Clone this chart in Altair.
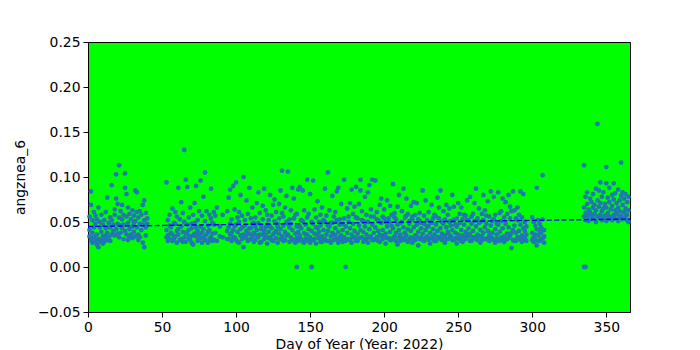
import altair as alt
import pandas as pd

# ---- data ----
jan_days = list(range(1, 41))
jan_vals = [
    [0.056, 0.034, 0.041], [0.084, 0.069, 0.030], [0.052, 0.038, 0.027], [0.061, 0.044, 0.033],
    [0.048, 0.029, 0.057], [0.036, 0.053, 0.025], [0.066, 0.031, 0.022], [0.044, 0.028, 0.050],
    [0.039, 0.058, 0.030], [0.034, 0.026, 0.047], [0.052, 0.031, 0.028], [0.043, 0.035, 0.061],
    [0.077, 0.038, 0.030], [0.049, 0.033], [0.055, 0.029, 0.044], [0.091, 0.036, 0.052],
    [0.047, 0.040], [0.064, 0.035, 0.058], [0.103, 0.076, 0.042], [0.070, 0.048, 0.037],
    [0.113, 0.055, 0.033], [0.062, 0.046, 0.038], [0.069, 0.043, 0.053], [0.058, 0.031, 0.047],
    [0.104, 0.088, 0.040], [0.081, 0.056, 0.036], [0.066, 0.049, 0.030], [0.059, 0.042, 0.033],
    [0.053, 0.036], [0.063, 0.045, 0.032], [0.057, 0.039, 0.049], [0.085, 0.051, 0.034],
    [0.083, 0.061, 0.044], [0.055, 0.036, 0.030], [0.048, 0.062, 0.033], [0.058, 0.041],
    [0.069, 0.047, 0.027], [0.074, 0.052, 0.022], [0.060, 0.044, 0.035], [0.054, 0.048],
]

mid_days = (list(range(53, 88)) + [89, 91] + list(range(94, 297)) + list(range(300, 309)))
mid_vals = [
    # 53-87
    [0.094, 0.041, 0.033], [0.052, 0.035, 0.029], [0.058, 0.046, 0.031], [0.044, 0.038],
    [0.065, 0.036, 0.029], [0.049, 0.031], [0.061, 0.034, 0.048], [0.056, 0.027, 0.040],
    [0.088, 0.042, 0.036], [0.053, 0.030], [0.072, 0.031, 0.045], [0.060, 0.039, 0.028],
    [0.130, 0.050, 0.033], [0.097, 0.038, 0.028], [0.089, 0.047, 0.037], [0.055, 0.041, 0.032],
    [0.066, 0.034, 0.030], [0.048, 0.043, 0.027], [0.058, 0.035, 0.025], [0.071, 0.049, 0.037],
    [0.090, 0.044, 0.034], [0.052, 0.040, 0.029], [0.062, 0.036, 0.031], [0.096, 0.045, 0.032],
    [0.057, 0.038, 0.027], [0.078, 0.042, 0.033], [0.105, 0.051, 0.030], [0.062, 0.036],
    [0.046, 0.039, 0.027], [0.058, 0.041, 0.031], [0.087, 0.054, 0.033], [0.049, 0.037, 0.029],
    [0.061, 0.030, 0.047], [0.057, 0.038], [0.066, 0.029],
    # 89, 91
    [0.045, 0.034], [0.058, 0.033],
    # 94-296
    [0.062, 0.040, 0.031], [0.077, 0.031, 0.044], [0.086, 0.048, 0.036], [0.053, 0.029, 0.038], [0.090, 0.041, 0.033],
    [0.064, 0.033, 0.045], [0.094, 0.047, 0.030], [0.055, 0.039, 0.028], [0.061, 0.050, 0.027], [0.080, 0.035, 0.042],
    [0.057, 0.044, 0.031], [0.100, 0.036, 0.022], [0.052, 0.046, 0.034], [0.074, 0.040, 0.032], [0.059, 0.029, 0.037],
    [0.088, 0.043, 0.037], [0.054, 0.031, 0.043], [0.066, 0.034, 0.048], [0.049, 0.038, 0.028], [0.055, 0.030, 0.045],
    [0.071, 0.041, 0.035], [0.083, 0.049, 0.033], [0.060, 0.036, 0.027], [0.046, 0.042, 0.028], [0.068, 0.053, 0.036],
    [0.087, 0.040, 0.031], [0.063, 0.035, 0.044], [0.058, 0.047, 0.026], [0.052, 0.039, 0.032], [0.080, 0.045, 0.033],
    [0.057, 0.043, 0.030], [0.069, 0.036, 0.029], [0.075, 0.051, 0.038], [0.061, 0.040, 0.032], [0.048, 0.045, 0.027],
    [0.070, 0.037, 0.054], [0.085, 0.042, 0.031], [0.107, 0.060, 0.034], [0.056, 0.046, 0.029], [0.066, 0.039, 0.030],
    [0.079, 0.050, 0.035], [0.106, 0.048, 0.036], [0.053, 0.044, 0.028], [0.063, 0.033, 0.048], [0.088, 0.041, 0.030],
    [0.076, 0.054, 0.030], [0.058, 0.037, 0.027], [0.000, 0.059, 0.045, 0.032], [0.086, 0.039, 0.029], [0.089, 0.045, 0.035],
    [0.052, 0.043, 0.031], [0.085, 0.051, 0.028], [0.063, 0.038, 0.027], [0.047, 0.036, 0.031], [0.097, 0.055, 0.036],
    [0.059, 0.042, 0.029], [0.081, 0.033, 0.027], [0.000, 0.050, 0.040], [0.096, 0.048, 0.030], [0.064, 0.037, 0.031],
    [0.055, 0.044, 0.026], [0.073, 0.043, 0.035], [0.050, 0.039, 0.032], [0.058, 0.046, 0.028], [0.066, 0.034, 0.028],
    [0.052, 0.041, 0.030], [0.087, 0.050, 0.031], [0.057, 0.036, 0.029], [0.105, 0.046, 0.040], [0.063, 0.045, 0.029],
    [0.049, 0.034, 0.027], [0.079, 0.049, 0.038], [0.056, 0.030, 0.036], [0.061, 0.043, 0.035], [0.084, 0.052, 0.031],
    [0.088, 0.039, 0.027], [0.053, 0.047, 0.033], [0.070, 0.035, 0.030], [0.048, 0.041, 0.028], [0.097, 0.054, 0.033],
    [0.000, 0.045, 0.029], [0.065, 0.038, 0.031], [0.056, 0.050, 0.031], [0.071, 0.043, 0.030], [0.086, 0.036, 0.027],
    [0.059, 0.048, 0.033], [0.067, 0.040, 0.033], [0.089, 0.055, 0.029], [0.054, 0.037, 0.029], [0.070, 0.046, 0.032],
    [0.097, 0.085, 0.041], [0.062, 0.033, 0.052], [0.051, 0.039, 0.028], [0.078, 0.045, 0.030], [0.058, 0.036, 0.031],
    [0.083, 0.050, 0.027], [0.091, 0.042, 0.033], [0.064, 0.056, 0.034], [0.097, 0.047, 0.030], [0.056, 0.038, 0.030],
    [0.096, 0.044, 0.031], [0.061, 0.053, 0.033], [0.052, 0.040, 0.029], [0.069, 0.036, 0.028], [0.076, 0.049, 0.034],
    [0.056, 0.041, 0.031], [0.064, 0.054, 0.035], [0.050, 0.037, 0.026], [0.074, 0.045, 0.032], [0.054, 0.032, 0.050],
    [0.068, 0.039, 0.030], [0.058, 0.046, 0.030], [0.092, 0.043, 0.032], [0.060, 0.055, 0.034], [0.053, 0.038, 0.029],
    [0.067, 0.047, 0.025], [0.080, 0.041, 0.033], [0.049, 0.036, 0.029], [0.062, 0.050, 0.031], [0.087, 0.044, 0.032],
    [0.055, 0.038, 0.030], [0.076, 0.057, 0.035], [0.059, 0.042, 0.028], [0.051, 0.031, 0.048], [0.068, 0.040, 0.033],
    [0.056, 0.053, 0.027], [0.072, 0.044, 0.031], [0.058, 0.035, 0.030], [0.071, 0.047, 0.034], [0.053, 0.039, 0.024],
    [0.060, 0.051, 0.031], [0.049, 0.043, 0.033], [0.085, 0.037, 0.030], [0.057, 0.048, 0.029], [0.074, 0.041, 0.032],
    [0.052, 0.034, 0.045], [0.061, 0.045, 0.030], [0.050, 0.038, 0.026], [0.069, 0.049, 0.033], [0.054, 0.031, 0.042],
    [0.058, 0.036, 0.029], [0.056, 0.047, 0.029], [0.077, 0.040, 0.033], [0.066, 0.054, 0.033], [0.085, 0.043, 0.031],
    [0.050, 0.037, 0.030], [0.062, 0.048, 0.034], [0.053, 0.035, 0.027], [0.069, 0.044, 0.031], [0.058, 0.039, 0.031],
    [0.065, 0.050, 0.036], [0.051, 0.034, 0.046], [0.080, 0.041, 0.030], [0.067, 0.053, 0.030], [0.047, 0.038, 0.032],
    [0.054, 0.045, 0.026], [0.071, 0.036, 0.031], [0.059, 0.049, 0.032], [0.066, 0.041, 0.029], [0.053, 0.035, 0.028],
    [0.058, 0.047, 0.033], [0.057, 0.039, 0.031], [0.074, 0.052, 0.035], [0.052, 0.043, 0.034], [0.078, 0.037, 0.029],
    [0.056, 0.048, 0.029], [0.059, 0.040, 0.033], [0.071, 0.033, 0.051], [0.087, 0.045, 0.031], [0.054, 0.036, 0.030],
    [0.065, 0.049, 0.034], [0.050, 0.041, 0.027], [0.059, 0.034, 0.030], [0.080, 0.052, 0.038], [0.063, 0.044, 0.031],
    [0.057, 0.031, 0.048], [0.073, 0.040, 0.032], [0.056, 0.035, 0.029], [0.084, 0.046, 0.033], [0.051, 0.038, 0.032],
    [0.078, 0.053, 0.030], [0.058, 0.042, 0.027], [0.048, 0.036, 0.031], [0.083, 0.047, 0.030], [0.060, 0.039, 0.029],
    [0.062, 0.051, 0.033], [0.076, 0.043, 0.031], [0.055, 0.034, 0.028], [0.072, 0.048, 0.030], [0.059, 0.037, 0.031],
    [0.080, 0.044, 0.032], [0.067, 0.054, 0.035], [0.062, 0.038, 0.021], [0.084, 0.041, 0.030], [0.063, 0.046, 0.029],
    [0.054, 0.038, 0.029], [0.066, 0.052, 0.033], [0.058, 0.040, 0.033], [0.084, 0.047, 0.030], [0.055, 0.035, 0.028],
    [0.081, 0.043, 0.031], [0.050, 0.032, 0.040], [0.045, 0.029, 0.036],
    # 300-308
    [0.055, 0.038, 0.030], [0.050, 0.033, 0.028], [0.046, 0.030, 0.036], [0.088, 0.042, 0.024],
    [0.052, 0.035, 0.029], [0.048, 0.029, 0.040], [0.044, 0.038, 0.031], [0.102, 0.053, 0.032],
    [0.041, 0.027, 0.034],
]

dec_days = list(range(335, 366))
dec_vals = [
    [0.000, 0.113, 0.066, 0.056], [0.000, 0.078, 0.060, 0.052], [0.083, 0.070, 0.055],
    [0.064, 0.058, 0.051], [0.076, 0.061], [0.072, 0.057, 0.053], [0.081, 0.066, 0.054],
    [0.069, 0.059], [0.087, 0.063, 0.050], [0.159, 0.074, 0.056], [0.085, 0.067, 0.055],
    [0.094, 0.071, 0.058], [0.078, 0.062, 0.052], [0.083, 0.065, 0.054], [0.070, 0.057],
    [0.111, 0.093, 0.066, 0.051], [0.077, 0.060, 0.053], [0.088, 0.072, 0.056],
    [0.064, 0.055], [0.080, 0.068, 0.052], [0.093, 0.075, 0.058], [0.082, 0.063, 0.054],
    [0.071, 0.059], [0.086, 0.066, 0.051], [0.074, 0.062, 0.055], [0.116, 0.079, 0.057],
    [0.083, 0.069, 0.053], [0.076, 0.061], [0.081, 0.065, 0.056], [0.072, 0.058, 0.052],
    [0.078, 0.063, 0.050],
]

trend_days = [0, 366]
trend_vals = [0.0450, 0.0533]

# ---- build table ----
rows = []
for days, vals in ((jan_days, jan_vals), (mid_days, mid_vals), (dec_days, dec_vals)):
    for d, vs in zip(days, vals):
        for v in vs:
            rows.append({"day": d, "value": v})
df = pd.DataFrame(rows)
trend_df = pd.DataFrame({"day": trend_days, "value": trend_vals})

xscale = alt.Scale(domain=[0, 366], nice=False, zero=False)
yscale = alt.Scale(domain=[-0.05, 0.25], nice=False, zero=False)

xaxis = alt.Axis(title="Day of Year (Year: 2022)", values=[0, 50, 100, 150, 200, 250, 300, 350],
                 format="d", titlePadding=4, labelFlush=False)
yaxis = alt.Axis(title="angznea_6", values=[-0.05, 0, 0.05, 0.10, 0.15, 0.20, 0.25],
                 format=".2f", titlePadding=10, labelFlush=False)

points = alt.Chart(df).mark_circle(size=23, color="#1f77b4", opacity=1).encode(
    x=alt.X("day:Q", scale=xscale, axis=xaxis),
    y=alt.Y("value:Q", scale=yscale, axis=yaxis),
)

trend = alt.Chart(trend_df).mark_line(color="#0000ff", strokeWidth=1.4, strokeDash=[5, 2.4]).encode(
    x=alt.X("day:Q", scale=xscale),
    y=alt.Y("value:Q", scale=yscale),
)

chart = alt.layer(points, trend).properties(
    width=542, height=270,
    autosize="none",
    padding={"left": 88, "top": 42, "right": 70, "bottom": 38},
    background="white",
).configure_view(
    fill="#00ff00", stroke="black", strokeWidth=1,
).configure_axis(
    grid=False, domainColor="black", tickColor="black", labelColor="black",
    titleColor="black", labelFont="DejaVu Sans", titleFont="DejaVu Sans",
    labelFontSize=13.9, titleFontSize=13.9, titleFontWeight="normal",
    tickSize=5, labelPadding=3, domainWidth=1, tickWidth=1,
)

chart.save("out.html", embed_options={"renderer": "svg", "actions": False})
